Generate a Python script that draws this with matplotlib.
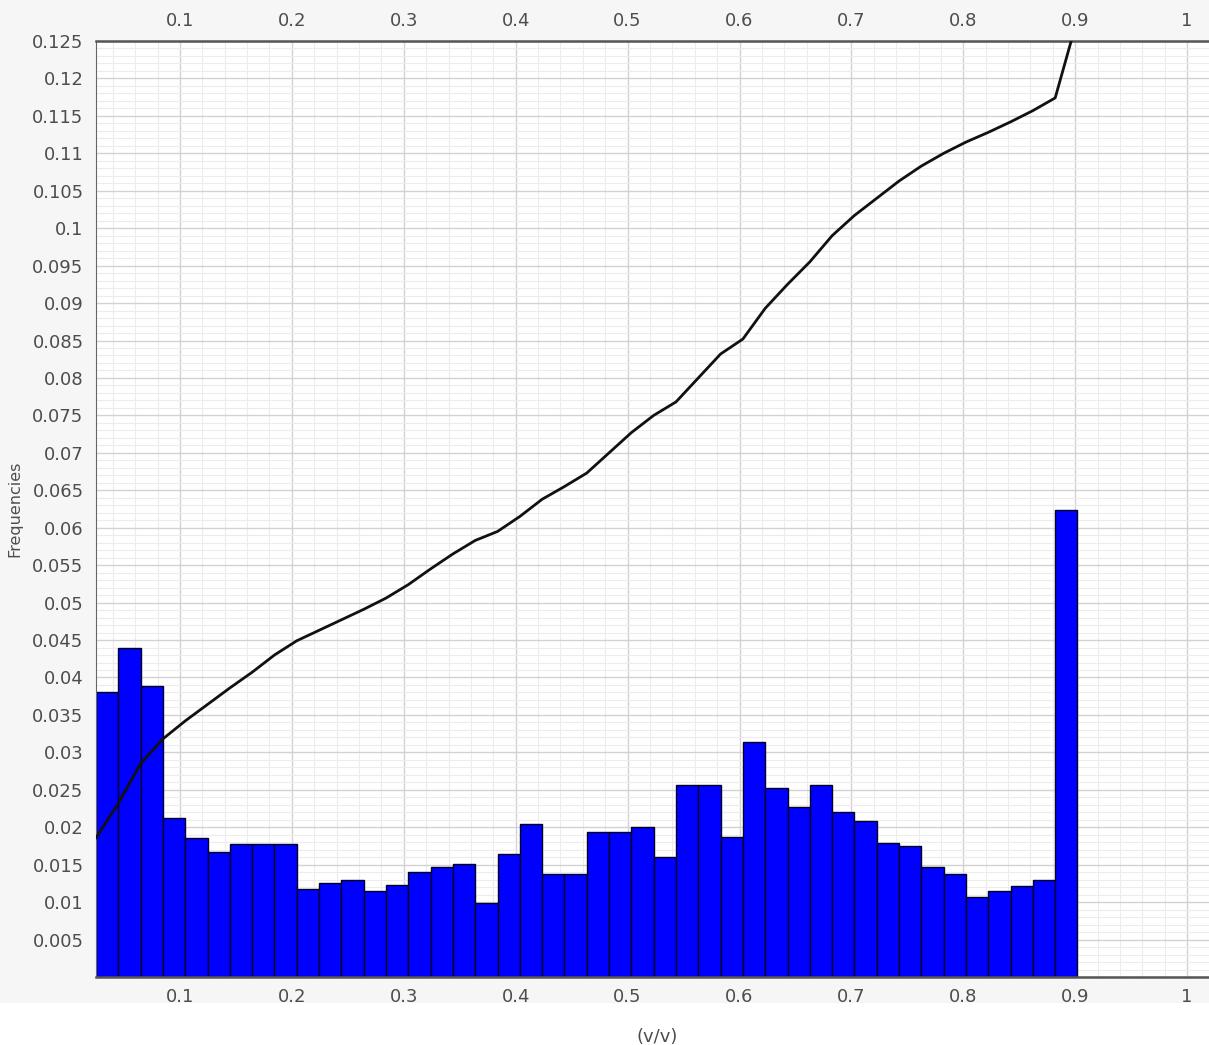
import numpy as np
import matplotlib.pyplot as plt
from matplotlib.ticker import MultipleLocator, FuncFormatter
from matplotlib.patches import Rectangle

# histogram: 44 bins from 0.025 to 0.9
bin_lo = 0.025
bin_hi = 0.902
freqs = [0.0381, 0.0440, 0.0388, 0.0213, 0.0186, 0.0167, 0.0178, 0.0178, 0.0178,
         0.0118, 0.0126, 0.0130, 0.0115, 0.0123, 0.0140, 0.0147, 0.0151, 0.0099,
         0.0164, 0.0204, 0.0137, 0.0137, 0.0193, 0.0193, 0.0200, 0.0160, 0.0256,
         0.0256, 0.0187, 0.0314, 0.0252, 0.0227, 0.0256, 0.0220, 0.0209, 0.0179,
         0.0175, 0.0147, 0.0137, 0.0107, 0.0115, 0.0122, 0.0130, 0.0624]

# black curve, one value per bin edge
curve = [0.0186, 0.0232, 0.0285, 0.0318, 0.0342, 0.0364, 0.0386, 0.0407, 0.0430,
         0.0449, 0.0463, 0.0477, 0.0491, 0.0506, 0.0524, 0.0545, 0.0565, 0.0583,
         0.0595, 0.0615, 0.0638, 0.0655, 0.0673, 0.0700, 0.0727, 0.0750, 0.0768,
         0.0800, 0.0832, 0.0852, 0.0893, 0.0925, 0.0955, 0.0990, 0.1017, 0.1040,
         0.1063, 0.1083, 0.1100, 0.1115, 0.1128, 0.1142, 0.1157, 0.1174, 0.1280]

edges = np.linspace(bin_lo, bin_hi, len(freqs) + 1)

fig = plt.figure(figsize=(12.09, 10.45), dpi=100, facecolor='#f6f6f6')
fig.patches.append(Rectangle((0, 0), 1, 42/1045, transform=fig.transFigure,
                             facecolor='white', edgecolor='none', zorder=-1))
ax = fig.add_axes([96/1209, 68/1045, 1113/1209, 936/1045])
ax.set_facecolor('white')

ax.bar(edges[:-1], freqs, width=np.diff(edges), align='edge',
       color='#0000ff', edgecolor='#000022', linewidth=1, zorder=2)
ax.plot(edges, curve, color='#111111', lw=2, zorder=3)

ax.set_xlim(0.025, 1.0195)
ax.set_ylim(0, 0.125)

ax.xaxis.set_major_locator(MultipleLocator(0.1))
ax.xaxis.set_minor_locator(MultipleLocator(0.02))
ax.yaxis.set_major_locator(MultipleLocator(0.005))
ax.yaxis.set_minor_locator(MultipleLocator(0.001))
fmt = FuncFormatter(lambda v, p: '' if abs(v) < 1e-9 else '%g' % round(v, 4))
ax.xaxis.set_major_formatter(fmt)
ax.yaxis.set_major_formatter(fmt)

ax.grid(which='major', color='#d2d2d2', lw=1, zorder=0)
ax.grid(which='minor', color='#ececec', lw=0.8, zorder=0)
ax.set_axisbelow(True)

ax.tick_params(which='both', length=0, labelsize=13, labelcolor='#4d4d4d')
ax.tick_params(axis='x', pad=8, top=True, labeltop=True)
ax.tick_params(axis='y', pad=9)

for s in ['top', 'bottom']:
    ax.spines[s].set_color('#555555')
    ax.spines[s].set_linewidth(1.8)
ax.spines['left'].set_color('#666666')
ax.spines['right'].set_visible(False)

ax.set_ylabel('Frequencies', fontsize=11.5, color='#4d4d4d')
ax.yaxis.set_label_coords(-0.066, 0.5)
ax.set_xlabel('(v/v)', fontsize=13, color='#4d4d4d')
ax.xaxis.set_label_coords(0.504, -0.055)

fig.savefig('out.png', dpi=100, facecolor=fig.get_facecolor())
